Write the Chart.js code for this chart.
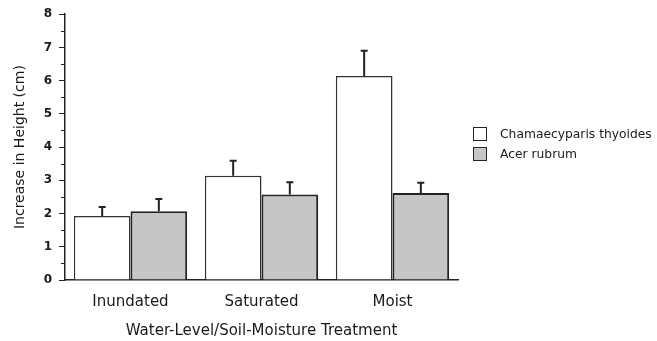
<!DOCTYPE html>
<html>
<head>
<meta charset="utf-8">
<script src="https://cdn.jsdelivr.net/npm/chart.js@4/dist/chart.umd.min.js"></script>
<style>
html,body{margin:0;padding:0;background:#fff;}
#wrap{position:relative;width:657px;height:341px;}
#legend{position:absolute;left:473px;top:124px;font-family:'DejaVu Sans',sans-serif;font-size:12.3px;color:#1a1a1a;}
#legend .item{display:flex;align-items:center;height:20px;}
#legend .sw{width:12px;height:12px;border:1.5px solid #222;margin-right:13px;box-sizing:content-box;}
</style>
</head>
<body>
<div id="wrap"><canvas id="c" width="657" height="341"></canvas><div id="legend"></div></div>
<script>
const categories = ['Inundated', 'Saturated', 'Moist'];
const seriesNames = ['Chamaecyparis thyoides', 'Acer rubrum'];
const chamaecyparis = [1.93, 3.14, 6.14];
const chamaecyparisErr = [0.27, 0.45, 0.76];
const acer = [2.07, 2.57, 2.62];
const acerErr = [0.37, 0.37, 0.31];
const yTickLabels = [0, 1, 2, 3, 4, 5, 6, 7, 8];

const errors = [chamaecyparisErr, acerErr];
const fills = ['#ffffff', '#c6c6c6'];
const INK = '#222';
const TEXT = '#1a1a1a';
const FONT = "'DejaVu Sans', sans-serif";

// HTML legend built from series names
const legendEl = document.getElementById('legend');
seriesNames.forEach((name, i) => {
  const it = document.createElement('div');
  it.className = 'item';
  const sw = document.createElement('span');
  sw.className = 'sw';
  sw.style.background = fills[i];
  const tx = document.createElement('span');
  tx.textContent = name;
  it.appendChild(sw); it.appendChild(tx);
  legendEl.appendChild(it);
});

const errorBars = {
  id: 'errorBars',
  afterDatasetsDraw(chart) {
    const ctx = chart.ctx;
    const y = chart.scales.y;
    ctx.save();
    ctx.strokeStyle = INK;
    ctx.lineWidth = 2;
    chart.data.datasets.forEach((ds, di) => {
      const meta = chart.getDatasetMeta(di);
      meta.data.forEach((bar, i) => {
        const top = y.getPixelForValue(ds.data[i] + errors[di][i]);
        ctx.beginPath();
        ctx.moveTo(bar.x, bar.y);
        ctx.lineTo(bar.x, top);
        ctx.moveTo(bar.x - 3.5, top);
        ctx.lineTo(bar.x + 3.5, top);
        ctx.stroke();
      });
    });
    // short minor ticks on y axis
    ctx.lineWidth = 1;
    y.ticks.forEach(t => {
      if (!yTickLabels.includes(t.value)) {
        const py = Math.round(y.getPixelForValue(t.value)) + 0.5;
        ctx.beginPath();
        ctx.moveTo(y.right - 4, py);
        ctx.lineTo(y.right, py);
        ctx.stroke();
      }
    });
    ctx.restore();
  }
};

new Chart(document.getElementById('c'), {
  type: 'bar',
  data: {
    labels: categories,
    datasets: [
      {
        label: seriesNames[0],
        data: chamaecyparis,
        backgroundColor: fills[0],
        borderColor: '#333',
        borderWidth: 1.5,
        borderSkipped: 'bottom',
        barPercentage: 1,
        categoryPercentage: 0.865
      },
      {
        label: seriesNames[1],
        data: acer,
        backgroundColor: fills[1],
        borderColor: INK,
        borderWidth: 2,
        borderSkipped: 'bottom',
        barPercentage: 1,
        categoryPercentage: 0.865
      }
    ]
  },
  options: {
    responsive: false,
    animation: false,
    layout: { padding: { top: 13, right: 199, bottom: 0, left: 0 } },
    plugins: {
      tooltip: { enabled: false },
      legend: { display: false }
    },
    scales: {
      x: {
        afterFit: (s) => { s.height = 61; },
        grid: { display: false, drawTicks: false },
        border: { display: true, color: INK, width: 1.5 },
        ticks: {
          color: TEXT,
          padding: 13,
          font: { family: FONT, size: 15 }
        },
        title: {
          display: true,
          text: 'Water-Level/Soil-Moisture Treatment',
          color: TEXT,
          font: { family: FONT, size: 15 },
          padding: { top: 0, bottom: 1 }
        }
      },
      y: {
        min: 0,
        max: 8,
        afterFit: (s) => { s.width = 65; },
        grid: {
          display: true,
          drawOnChartArea: false,
          drawTicks: true,
          tickLength: 6,
          tickColor: (c) => yTickLabels.includes(c.tick.value) ? INK : 'rgba(0,0,0,0)',
          tickWidth: 1
        },
        border: { display: true, color: INK, width: 1.5 },
        ticks: {
          stepSize: 0.5,
          color: TEXT,
          padding: 7,
          autoSkip: false,
          font: { family: FONT, size: 12, weight: 'bold' },
          callback: (v) => yTickLabels.includes(v) ? String(v) : ''
        },
        title: {
          display: true,
          text: 'Increase in Height (cm)',
          color: TEXT,
          font: { family: FONT, size: 14 },
          padding: { top: 12, bottom: 0 }
        }
      }
    }
  },
  plugins: [errorBars]
});
</script>
</body>
</html>
